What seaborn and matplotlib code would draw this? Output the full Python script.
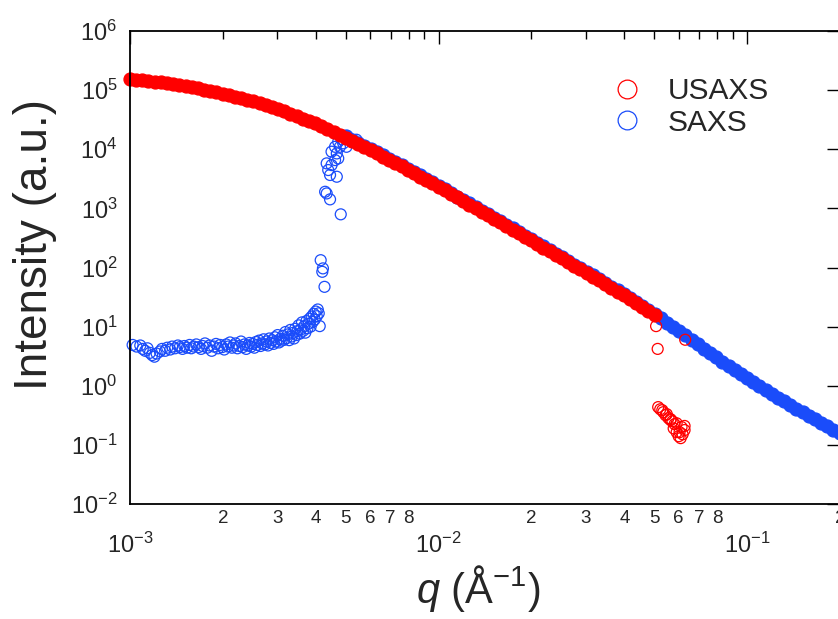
import numpy as np
import matplotlib
matplotlib.use("Agg")
import matplotlib.pyplot as plt
from matplotlib.ticker import LogLocator, FuncFormatter, NullLocator
from matplotlib.lines import Line2D
import seaborn as sns

# ---------------- data ----------------
# USAXS, merged smooth curve
usaxs_q = [0.001000, 0.001047, 0.001096, 0.001148, 0.001202, 0.001259, 0.001318, 0.001380, 0.001445, 0.001514,
           0.001585, 0.001660, 0.001738, 0.001820, 0.001905, 0.001995, 0.002089, 0.002188, 0.002291, 0.002399,
           0.002512, 0.002630, 0.002754, 0.002884, 0.003020, 0.003162, 0.003311, 0.003467, 0.003631, 0.003802,
           0.003981, 0.004169, 0.004365, 0.004571, 0.004786, 0.005012, 0.005248, 0.005495, 0.005754, 0.006026,
           0.006310, 0.006607, 0.006918, 0.007244, 0.007586, 0.007943, 0.008318, 0.008710, 0.009120, 0.009550,
           0.01000, 0.01047, 0.01096, 0.01148, 0.01202, 0.01259, 0.01318, 0.01380, 0.01445, 0.01514,
           0.01585, 0.01660, 0.01738, 0.01820, 0.01905, 0.01995, 0.02089, 0.02188, 0.02291, 0.02399,
           0.02512, 0.02630, 0.02754, 0.02884, 0.03020, 0.03162, 0.03311, 0.03467, 0.03631, 0.03802,
           0.03981, 0.04169, 0.04365, 0.04571, 0.04786, 0.05012]
usaxs_i = [155000, 151000, 148000, 145000, 138000, 135000, 132000, 126000, 120000, 117000,
           112000, 107000, 102000, 97700, 91200, 87100, 83200, 77600, 72400, 68400,
           64600, 59600, 55000, 51300, 47400, 44000, 40000, 36400, 33100, 30100,
           27400, 24500, 22000, 19700, 17600, 15800, 14000, 12400, 10900, 9680,
           8570, 7530, 6620, 5820, 5120, 4500, 3940, 3440, 3010, 2640,
           2310, 2010, 1750, 1530, 1330, 1160, 1010, 879, 766, 665,
           579, 504, 438, 380, 330, 287, 249, 217, 188, 164,
           142, 123, 107, 92.9, 80.7, 70.0, 60.5, 52.4, 45.3, 39.2,
           33.9, 29.1, 24.9, 21.4, 18.4, 15.8]

# USAXS points past the end of the usable range
usaxs_tail_q = [0.0507, 0.0513, 0.0630, 0.0515, 0.0523, 0.0531, 0.0535, 0.0544, 0.0549, 0.0556,
                0.0565, 0.0565, 0.0573, 0.0578, 0.0582, 0.0591, 0.0591, 0.0600, 0.0604, 0.0609,
                0.0613, 0.0618, 0.0627, 0.0627]
usaxs_tail_i = [10.2, 4.2, 6.0, 0.435, 0.40, 0.386, 0.357, 0.318, 0.331, 0.283,
                0.262, 0.272, 0.251, 0.19, 0.224, 0.232, 0.164, 0.140, 0.164, 0.130,
                0.20, 0.151, 0.178, 0.209]

# SAXS, smooth part of the curve
saxs_q = [0.005012, 0.005248, 0.005495, 0.005754, 0.006026, 0.006310, 0.006607, 0.006918, 0.007244, 0.007586,
          0.007943, 0.008318, 0.008710, 0.009120, 0.009550, 0.01000, 0.01047, 0.01096, 0.01148, 0.01202,
          0.01259, 0.01318, 0.01380, 0.01445, 0.01514, 0.01585, 0.01660, 0.01738, 0.01820, 0.01905,
          0.01995, 0.02089, 0.02188, 0.02291, 0.02399, 0.02512, 0.02630, 0.02754, 0.02884, 0.03020,
          0.03162, 0.03311, 0.03467, 0.03631, 0.03802, 0.03981, 0.04169, 0.04365, 0.04571, 0.04786,
          0.05012, 0.05248, 0.05495, 0.05754, 0.06026, 0.06310, 0.06607, 0.06918, 0.07244, 0.07586,
          0.07943, 0.08318, 0.08710, 0.09120, 0.09550, 0.1000, 0.1047, 0.1096, 0.1148, 0.1202,
          0.1259, 0.1318, 0.1380, 0.1445, 0.1514, 0.1585, 0.1660, 0.1738, 0.1820, 0.1905,
          0.1995]
saxs_i = [16600, 14600, 12900, 11500, 10200, 8910, 7940, 6920, 6100, 5370,
          4680, 4120, 3630, 3160, 2750, 2400, 2090, 1820, 1580, 1400,
          1220, 1060, 920, 802, 697, 607, 527, 458, 398, 346,
          301, 261, 227, 197, 171, 149, 129, 112, 97.3, 84.5,
          73.3, 63.4, 54.8, 47.4, 41.0, 35.5, 30.5, 26.1, 22.4, 19.2,
          16.5, 13.8, 11.7, 9.89, 8.41, 7.08, 5.89, 5.01, 4.22, 3.55,
          3.02, 2.57, 2.19, 1.86, 1.58, 1.35, 1.16, 0.995, 0.855, 0.734,
          0.631, 0.547, 0.474, 0.411, 0.356, 0.309, 0.270, 0.237, 0.207, 0.181,
          0.158]

# SAXS, beam-stop region (noisy low-q points and the rise to the curve)
saxs_lowq_q = [0.00102, 0.00105, 0.00108, 0.00110, 0.00112, 0.00114, 0.00116, 0.00118, 0.00120, 0.00122,
               0.00125, 0.00127, 0.00130, 0.00132, 0.00135, 0.00137, 0.00140, 0.00143, 0.00145, 0.00148,
               0.00150, 0.00153, 0.00156, 0.00158, 0.00161, 0.00164, 0.00167, 0.00170, 0.00172, 0.00175,
               0.00178, 0.00181, 0.00184, 0.00187, 0.00190, 0.00193, 0.00196, 0.00199, 0.00202, 0.00205,
               0.00208, 0.00211, 0.00214, 0.00217, 0.00220, 0.00223, 0.00226, 0.00229, 0.00232, 0.00235,
               0.00238, 0.00241, 0.00244, 0.00247, 0.00250, 0.00253, 0.00256, 0.00259, 0.00262, 0.00265,
               0.00268, 0.00271, 0.00274, 0.00277, 0.00280, 0.00283, 0.00286, 0.00289, 0.00292, 0.00295,
               0.00298, 0.00301, 0.00304, 0.00307, 0.00310, 0.00313, 0.00316, 0.00319, 0.00322, 0.00325,
               0.00328, 0.00331, 0.00334, 0.00337, 0.00340, 0.00343, 0.00346, 0.00349, 0.00352, 0.00355,
               0.00358, 0.00361, 0.00364, 0.00367, 0.00370, 0.00373, 0.00376, 0.00379, 0.00382, 0.00385,
               0.00388, 0.00391, 0.00394, 0.00397, 0.00400, 0.00403, 0.00406, 0.00409, 0.00412,
               0.00415, 0.00422, 0.00420, 0.00427, 0.00429, 0.00434, 0.00445, 0.00482, 0.00434, 0.00439,
               0.00450, 0.00445, 0.00468, 0.00462, 0.00473, 0.00450, 0.00468, 0.00479, 0.00473, 0.00491,
               0.00503, 0.00462, 0.00485, 0.00516, 0.00542]
saxs_lowq_i = [4.9, 4.6, 4.8, 4.2, 3.9, 4.3, 3.6, 3.3, 3.1, 3.5,
               3.8, 4.2, 3.9, 4.4, 4.1, 4.6, 4.3, 4.8, 4.5, 4.2,
               4.7, 4.4, 4.9, 4.3, 4.6, 5.0, 4.5, 4.2, 4.7, 5.2,
               4.4, 4.8, 3.9, 4.6, 5.1, 4.3, 4.9, 4.5, 4.1, 5.0,
               4.6, 5.4, 4.4, 4.8, 5.2, 4.3, 4.7, 5.6, 4.5, 5.0,
               4.2, 4.8, 5.3, 4.6, 5.1, 4.4, 5.5, 4.9, 5.8, 4.7,
               5.2, 6.1, 5.0, 5.6, 4.8, 6.3, 5.3, 5.9, 5.1, 6.6,
               5.6, 7.2, 5.4, 6.2, 5.8, 7.0, 6.0, 8.1, 6.4, 7.4,
               5.9, 8.8, 6.8, 7.8, 6.3, 9.2, 7.2, 8.4, 10.5, 7.6,
               9.0, 11.8, 8.5, 10.2, 7.9, 12.4, 9.4, 11.2, 13.6, 10.0,
               14.8, 12.0, 16.5, 13.2, 18.0, 15.0, 19.5, 16.8, 10.2,
               133, 96.6, 84.6, 47.1, 1910, 1790, 1420, 793, 5770, 4450,
               5400, 3670, 3430, 6560, 7000, 9100, 8500, 11000, 13400, 12600,
               11000, 11000, 14800, 15200, 14500]

series_labels = ["USAXS", "SAXS"]
RED = "#ff0000"
BLUE = "#1a4cfa"

# ---------------- style ----------------
sns.set_style("white")
plt.rcParams["font.family"] = ["Liberation Sans", "DejaVu Sans"]
plt.rcParams["mathtext.fontset"] = "custom"
plt.rcParams["mathtext.rm"] = "Liberation Sans"
plt.rcParams["mathtext.it"] = "Liberation Sans:italic"
plt.rcParams["axes.unicode_minus"] = False

fig = plt.figure(figsize=(8.38, 6.19), dpi=100)
ax = fig.add_axes([0.1551, 0.1858, 0.8473, 0.7641])


def rings(q, inten, color):
    """Sparse points: open circles."""
    sns.scatterplot(x=q, y=inten, marker="o", s=62, color=color, edgecolor=color,
                    facecolor="none", linewidth=0.9, legend=False, ax=ax, clip_on=False)


def band(q, inten, color):
    """Densely sampled curve: overlapping circles merge into a solid band."""
    sns.scatterplot(x=q, y=inten, marker="o", s=88, color=color, edgecolor=color,
                    linewidth=0.9, legend=False, ax=ax, clip_on=False)


# SAXS first, USAXS drawn on top
rings(saxs_lowq_q, saxs_lowq_i, BLUE)
band(saxs_q, saxs_i, BLUE)
band(usaxs_q, usaxs_i, RED)
rings(usaxs_tail_q, usaxs_tail_i, RED)

ax.set_xscale("log")
ax.set_yscale("log")
ax.set_xlim(1e-3, 0.2)
ax.set_ylim(1e-2, 1e6)

# ticks
ax.xaxis.set_major_locator(LogLocator(base=10, numticks=20))
ax.xaxis.set_minor_locator(LogLocator(base=10, subs=np.arange(2, 10), numticks=40))


def minor_label(v, pos):
    m = int(round(v / 10 ** np.floor(np.log10(v) + 1e-9)))
    return str(m) if 2 <= m <= 8 else ""


ax.xaxis.set_minor_formatter(FuncFormatter(minor_label))
ax.yaxis.set_major_locator(LogLocator(base=10, numticks=20))
ax.yaxis.set_minor_locator(NullLocator())

ax.tick_params(which="both", direction="in", top=True, right=True, color="black", width=1.0)
ax.tick_params(which="major", length=9.5)
ax.tick_params(which="minor", length=5.5)
ax.tick_params(axis="x", which="major", pad=21, labelsize=17)
ax.tick_params(axis="x", which="minor", pad=4, labelsize=13.5)
ax.tick_params(axis="y", which="major", pad=9, labelsize=17)

for sp in ax.spines.values():
    sp.set_color("black")
    sp.set_linewidth(1.3)

ax.set_xlabel("$q$ (Å$^{-1}$)", fontsize=30)
ax.set_ylabel("Intensity (a.u.)", fontsize=33)
ax.xaxis.set_label_coords(0.491, -0.125)
ax.yaxis.set_label_coords(-0.103, 0.548)

handles = [Line2D([], [], linestyle="none", marker="o", markersize=13.5, markerfacecolor="none",
                  markeredgecolor=c, markeredgewidth=0.9) for c in (RED, BLUE)]
ax.legend(handles, series_labels, loc="upper left", bbox_to_anchor=(0.7303, 0.8756),
          bbox_transform=fig.transFigure, frameon=False, fontsize=21.5, handlelength=1.0,
          handletextpad=0.87, labelspacing=0.12, borderpad=0, borderaxespad=0)

fig.savefig("out.png", dpi=100)
